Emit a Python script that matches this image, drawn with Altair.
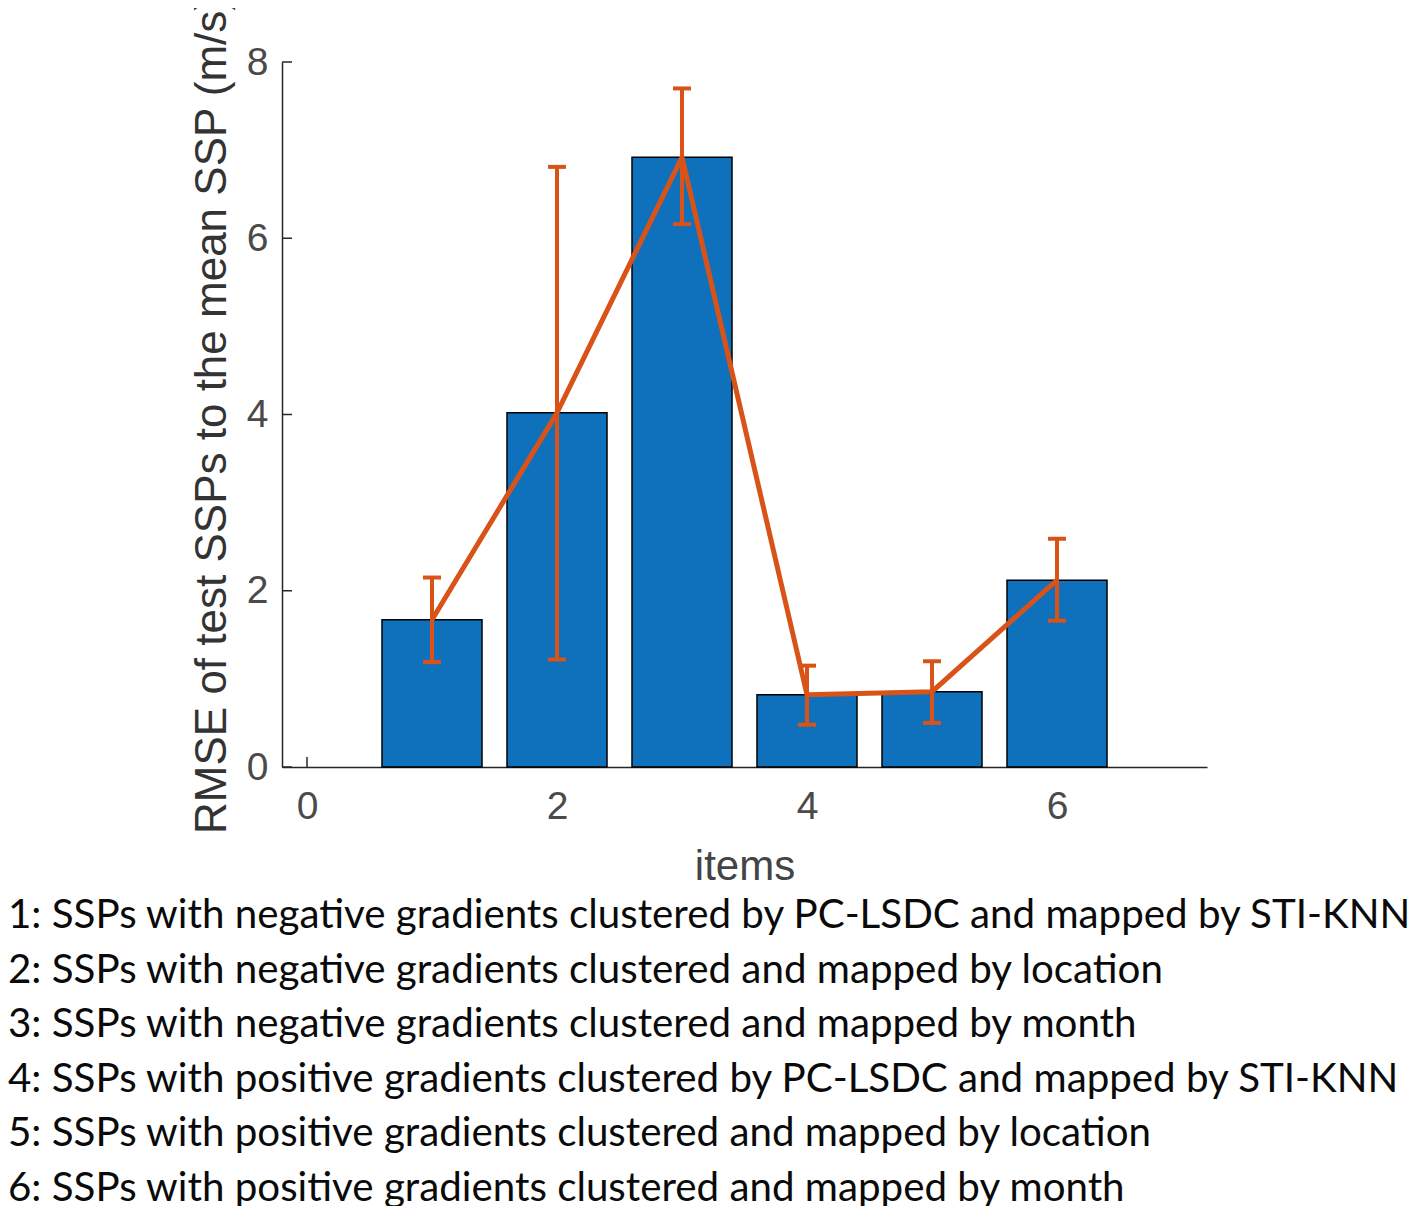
import altair as alt
import pandas as pd

items = [1, 2, 3, 4, 5, 6]
rmse = [1.67, 4.02, 6.92, 0.82, 0.855, 2.12]
err_low = [1.19, 1.22, 6.16, 0.48, 0.50, 1.66]
err_high = [2.15, 6.81, 7.70, 1.15, 1.20, 2.59]

x_ticks = [0, 2, 4, 6]
y_ticks = [0, 2, 4, 6, 8]

captions = [
    "1: SSPs with negative gradients clustered by PC-LSDC and mapped by STI-KNN",
    "2: SSPs with negative gradients clustered and mapped by location",
    "3: SSPs with negative gradients clustered and mapped by month",
    "4: SSPs with positive gradients clustered by PC-LSDC and mapped by STI-KNN",
    "5: SSPs with positive gradients clustered and mapped by location",
    "6: SSPs with positive gradients clustered and mapped by month",
]

df = pd.DataFrame({"item": items, "rmse": rmse, "low": err_low, "high": err_high})
xt = pd.DataFrame({"v": x_ticks})
yt = pd.DataFrame({"v": y_ticks})

W, H = 925, 705
BLUE = "#0F71BB"
RED = "#D95319"
AX = "#262626"

xs = alt.Scale(domain=[-0.2, 7.2], nice=False, zero=False)
ys = alt.Scale(domain=[0, 8], nice=False)

x_axis = alt.Axis(values=x_ticks, format="d", ticks=False, labelFontSize=39, labelPadding=20,
                  labelColor="#4a4a4a", title="items", titleFontSize=42,
                  titleFontWeight="normal", titleColor="#444444", titlePadding=20,
                  domainColor=AX, domainWidth=1.5, grid=False,
                  labelFont="Liberation Sans", titleFont="Liberation Sans")
y_axis = alt.Axis(values=y_ticks, format="d", ticks=False, labelFontSize=39, labelPadding=14,
                  labelColor="#4a4a4a", title="RMSE of test SSPs to the mean SSP (m/s)",
                  titleFontSize=44, titleFontWeight="normal", titleColor="#333333",
                  titlePadding=12, domainColor=AX, domainWidth=1.5, grid=False,
                  labelFont="Liberation Sans", titleFont="Liberation Sans")

base = alt.Chart(df)

ytick_rules = alt.Chart(yt).mark_rule(color=AX, strokeWidth=1.5).encode(
    y=alt.Y("v:Q", scale=ys, axis=y_axis),
    x=alt.value(0), x2=alt.value(10),
)
xtick_rules = alt.Chart(xt).mark_rule(color=AX, strokeWidth=1.5).encode(
    x=alt.X("v:Q", scale=xs, axis=x_axis),
    y=alt.value(H), y2=alt.value(H - 10),
)

bars = base.transform_calculate(
    x0="datum.item - 0.4", x1="datum.item + 0.4"
).mark_rect(color=BLUE, stroke="black", strokeWidth=1.5).encode(
    x=alt.X("x0:Q", scale=xs, axis=x_axis),
    x2="x1:Q",
    y=alt.Y("rmse:Q", scale=ys, axis=y_axis),
    y2=alt.datum(0),
)

line = base.mark_line(color=RED, strokeWidth=5).encode(
    x=alt.X("item:Q", scale=xs),
    y=alt.Y("rmse:Q", scale=ys),
)

err = base.mark_rule(color=RED, strokeWidth=4).encode(
    x=alt.X("item:Q", scale=xs),
    y=alt.Y("low:Q", scale=ys),
    y2="high:Q",
)
cap_lo = base.mark_tick(color=RED, orient="horizontal", size=18, thickness=4, opacity=1).encode(
    x=alt.X("item:Q", scale=xs),
    y=alt.Y("low:Q", scale=ys),
)
cap_hi = base.mark_tick(color=RED, orient="horizontal", size=18, thickness=4, opacity=1).encode(
    x=alt.X("item:Q", scale=xs),
    y=alt.Y("high:Q", scale=ys),
)

chart = alt.layer(ytick_rules, xtick_rules, bars, err, line, cap_lo, cap_hi).properties(
    width=W, height=H,
    title=alt.TitleParams(
        text=captions, orient="bottom", anchor="start", frame="group",
        font="Lato", fontSize=40.3, fontWeight="normal", color="#0a0a0a",
        lineHeight=54.6, dx=-274, offset=9, baseline="top",
    ),
    autosize=alt.AutoSizeParams(type="none"),
    padding={"left": 274, "top": 54, "right": 202, "bottom": 439},
).configure(background="white").configure_view(stroke=None)

chart.save("out.html", embed_options={"renderer": "svg", "actions": False})
